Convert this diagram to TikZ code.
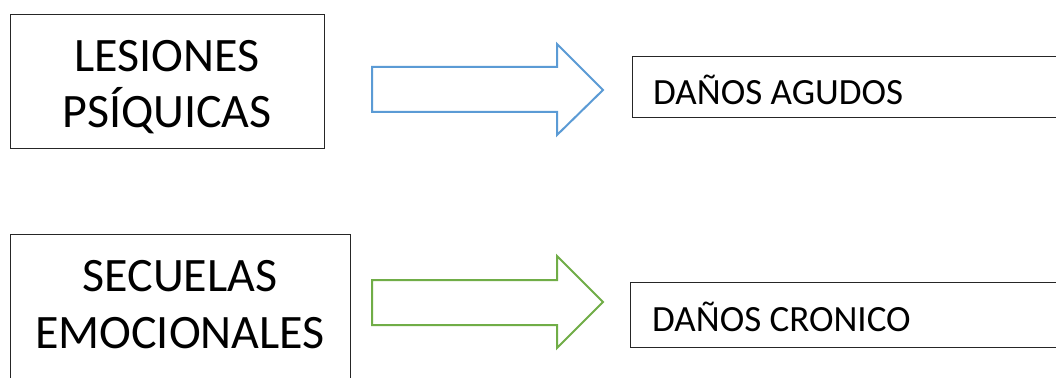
\documentclass[tikz,border=0pt]{standalone}
\usepackage{fontspec}
\setmainfont{Carlito}
\definecolor{arrblue}{HTML}{5B9BD5}
\definecolor{arrgreen}{HTML}{70AD47}
\definecolor{boxline}{HTML}{262626}
\begin{document}
\begin{tikzpicture}[x=1pt,y=-1pt,
  box/.style={draw=boxline,line width=1pt,fill=white},
  bigtext/.style={font=\fontsize{48}{58}\selectfont,align=center,inner sep=0pt},
  smalltext/.style={font=\fontsize{37}{44}\selectfont,anchor=base west,inner sep=0pt},
  fatarrow/.style={line width=2pt,line join=miter}]
\clip (0,0) rectangle (1056,377);
\fill[white] (0,0) rectangle (1056,377);
% left boxes
\draw[box] (10,15) rectangle (324,148);
\node[bigtext,anchor=base] (t1a) at (167,72) {LESIONES};
\node[bigtext,anchor=base] (t1b) at (167,128) {PSÍQUICAS};
\draw[box] (10,234) rectangle (350,400);
\node[bigtext,anchor=base] (t2a) at (180,291) {SECUELAS};
\node[bigtext,anchor=base] (t2b) at (180,348) {EMOCIONALES};
% arrows
\draw[fatarrow,draw=arrblue] (372,67) -- (557,67) -- (557,44) -- (603,90) -- (557,135) -- (557,112) -- (372,112) -- cycle;
\draw[fatarrow,draw=arrgreen] (372,280) -- (557,280) -- (557,256) -- (603,302) -- (557,348) -- (557,325) -- (372,325) -- cycle;
% right boxes
\draw[box] (632,57) rectangle (1070,117);
\node[smalltext] (r1) at (653,104) {DAÑOS AGUDOS};
\draw[box] (630,282) rectangle (1070,347);
\node[smalltext] (r2) at (652,331) {DAÑOS CRONICO};
\end{tikzpicture}
\end{document}
